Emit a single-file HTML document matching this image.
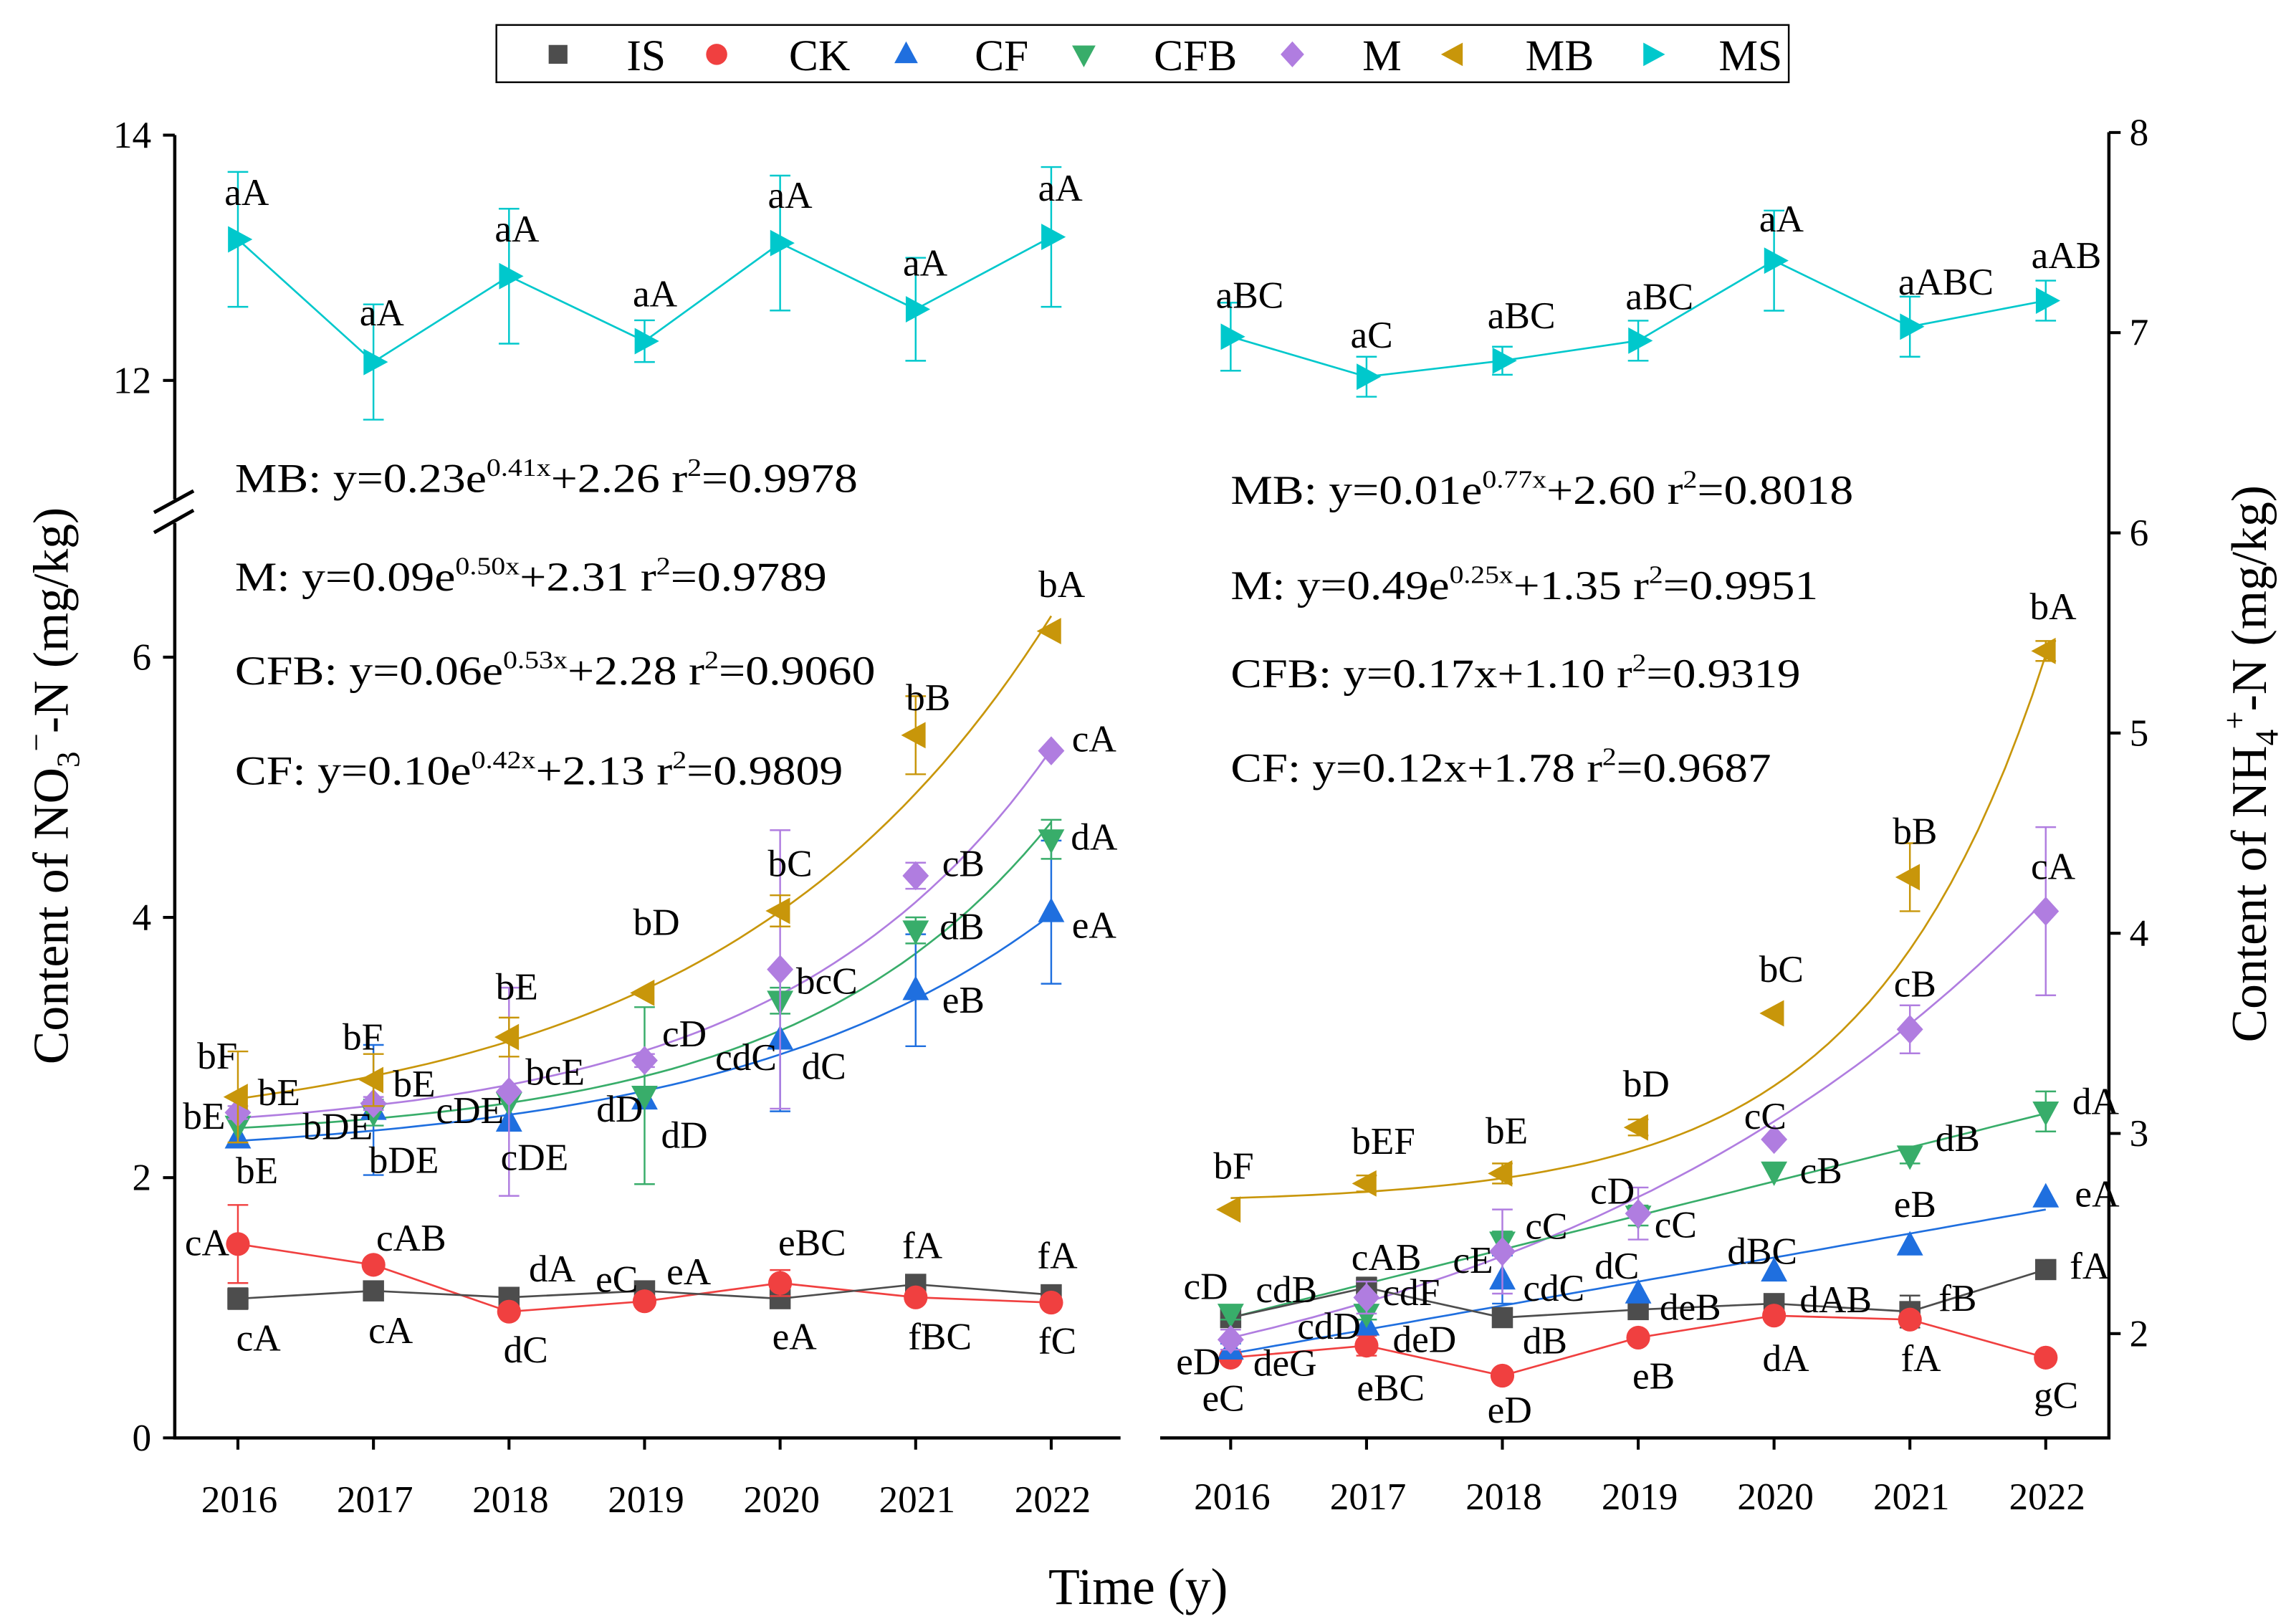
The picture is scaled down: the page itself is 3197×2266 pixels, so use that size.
<!DOCTYPE html>
<html><head><meta charset="utf-8"><style>
html,body{margin:0;padding:0;background:#fff;}
svg{display:block;font-family:"Liberation Serif","DejaVu Serif",serif;}
</style></head><body>
<svg id="chart" xmlns="http://www.w3.org/2000/svg" width="3197" height="2266" viewBox="0 0 1560 1105.7">
<rect x="0" y="0" width="1560" height="1106" fill="#fff"/>
<g id="legend"></g>
<g id="axes"></g>
<g id="plot"></g>
<g id="labels"></g>
<g font-size="28">
<text x="160" y="335" textLength="424" lengthAdjust="spacingAndGlyphs">MB: y=0.23e<tspan font-size="17" dy="-11">0.41x</tspan><tspan dy="11">+2.26 r</tspan><tspan font-size="17" dy="-11">2</tspan><tspan dy="11">=0.9978</tspan></text>
<text x="160" y="402" textLength="403" lengthAdjust="spacingAndGlyphs">M: y=0.09e<tspan font-size="17" dy="-11">0.50x</tspan><tspan dy="11">+2.31 r</tspan><tspan font-size="17" dy="-11">2</tspan><tspan dy="11">=0.9789</tspan></text>
<text x="160" y="466" textLength="436" lengthAdjust="spacingAndGlyphs">CFB: y=0.06e<tspan font-size="17" dy="-11">0.53x</tspan><tspan dy="11">+2.28 r</tspan><tspan font-size="17" dy="-11">2</tspan><tspan dy="11">=0.9060</tspan></text>
<text x="160" y="534" textLength="414" lengthAdjust="spacingAndGlyphs">CF: y=0.10e<tspan font-size="17" dy="-11">0.42x</tspan><tspan dy="11">+2.13 r</tspan><tspan font-size="17" dy="-11">2</tspan><tspan dy="11">=0.9809</tspan></text>
</g>
<g font-size="28">
<text x="838" y="343" textLength="424" lengthAdjust="spacingAndGlyphs">MB: y=0.01e<tspan font-size="17" dy="-11">0.77x</tspan><tspan dy="11">+2.60 r</tspan><tspan font-size="17" dy="-11">2</tspan><tspan dy="11">=0.8018</tspan></text>
<text x="838" y="408" textLength="400" lengthAdjust="spacingAndGlyphs">M: y=0.49e<tspan font-size="17" dy="-11">0.25x</tspan><tspan dy="11">+1.35 r</tspan><tspan font-size="17" dy="-11">2</tspan><tspan dy="11">=0.9951</tspan></text>
<text x="838" y="468" textLength="388" lengthAdjust="spacingAndGlyphs">CFB: y=0.17x+1.10 r<tspan font-size="17" dy="-11">2</tspan><tspan dy="11">=0.9319</tspan></text>
<text x="838" y="532" textLength="368" lengthAdjust="spacingAndGlyphs">CF: y=0.12x+1.78 r<tspan font-size="17" dy="-11">2</tspan><tspan dy="11">=0.9687</tspan></text>
</g>
<text transform="translate(46,535) rotate(-90)" text-anchor="middle" font-size="34">Content of NO<tspan font-size="22" dy="8">3</tspan><tspan font-size="22" dy="-22">−</tspan><tspan dy="14">-N (mg/kg)</tspan></text>
<text transform="translate(1543,520) rotate(-90)" text-anchor="middle" font-size="34">Content of NH<tspan font-size="22" dy="8">4</tspan><tspan font-size="22" dy="-22">+</tspan><tspan dy="14">-N (mg/kg)</tspan></text>
<text x="775" y="1092" text-anchor="middle" font-size="35">Time (y)</text>
</svg>
<script>
const NS='http://www.w3.org/2000/svg';
const years=['2016','2017','2018','2019','2020','2021','2022'];
const seriesNames=['IS','CK','CF','CFB','M','MB','MS'];
const colors={IS:'#4d4d4d',CK:'#f04040',CF:'#1f6fdf',CFB:'#38ad6a',M:'#b07de0',MB:'#c8960a',MS:'#00c8cc'};
const shapes={IS:'square',CK:'circle',CF:'up',CFB:'down',M:'diamond',MB:'left',MS:'right'};
// Left panel: NO3--N
const leftIS=[1.07,1.13,1.08,1.13,1.07,1.18,1.10];
const leftCK=[1.49,1.33,0.97,1.05,1.19,1.08,1.04];
const leftCF=[2.30,2.52,2.43,2.60,3.06,3.44,4.04];
const leftCFB=[2.40,2.50,2.58,2.63,3.36,3.90,4.60];
const leftM=[2.50,2.57,2.66,2.90,3.60,4.32,5.28];
const leftMB=[2.62,2.75,3.08,3.42,4.05,5.40,6.20];
const leftMS=[13.15,12.15,12.85,12.32,13.12,12.58,13.17];
const leftErrIS=[0.08,0,0,0,0,0,0];
const leftErrCK=[0.30,0,0,0,0.10,0,0];
const leftErrCF=[0,0.50,0,0,0.55,0.43,0.55];
const leftErrCFB=[0,0.10,0,0.68,0.10,0.10,0.15];
const leftErrM=[0.05,0.05,0.80,0.05,1.07,0.10,0];
const leftErrMB=[0.35,0.20,0.15,0,0.12,0.30,0];
const leftErrMS=[0.55,0.47,0.55,0.17,0.55,0.42,0.57];
// Right panel: NH4+-N
const rightIS=[2.08,2.23,2.08,2.12,2.15,2.11,2.32];
const rightCK=[1.88,1.94,1.79,1.98,2.09,2.07,1.88];
const rightCF=[1.92,2.04,2.27,2.20,2.31,2.44,2.68];
const rightCFB=[2.10,2.10,2.46,2.59,2.81,2.89,3.11];
const rightM=[1.97,2.18,2.41,2.60,2.97,3.52,4.11];
const rightMB=[2.62,2.75,2.80,3.03,3.60,4.28,5.41];
const rightMS=[6.98,6.78,6.86,6.96,7.36,7.03,7.16];
const rightErrIS=[0,0.05,0,0,0.04,0.08,0];
const rightErrCK=[0,0.05,0,0,0,0,0];
const rightErrCF=[0.03,0.03,0.12,0,0,0,0];
const rightErrCFB=[0.03,0.03,0.05,0.05,0,0.04,0.10];
const rightErrM=[0.05,0.08,0.21,0.13,0,0.12,0.42];
const rightErrMB=[0,0.04,0.05,0.04,0,0.17,0.05];
const rightErrMS=[0.17,0.10,0.07,0.10,0.25,0.15,0.10];
// fitted curve parameters (a*e^(b*x)+c, or linear slope/intercept), x = 1..7
const leftFitMB=[0.23,0.41,2.26], leftFitM=[0.09,0.50,2.31], leftFitCFB=[0.06,0.53,2.28], leftFitCF=[0.10,0.42,2.13];
const rightFitMB=[0.0125,0.77,2.65], rightFitM=[0.49,0.25,1.35];
const rightLinCFB=[0.17,1.91], rightLinCF=[0.12,1.78];
const leftTicksLow=['0','2','4','6'];
const leftTicksTop=['12','14'];
const rightTicks=['2','3','4','5','6','7','8'];
// significance letters [x, y, text] (annotation layout)
const leftLabels=[[168,131,'aA'],[260,213,'aA'],[352,156,'aA'],[446,200,'aA'],[538,133,'aA'],[630,179,'aA'],[722,128,'aA'],
[148,719,'bF'],[247,706,'bF'],[352,672,'bE'],[447,628,'bD'],[538,588,'bC'],[632,475,'bB'],[723,398,'bA'],
[190,744,'bE'],[282,738,'bE'],[378,730,'bcE'],[466,704,'cD'],[563,668,'bcC'],[656,588,'cB'],[745,503,'cA'],
[139,760,'bE'],[230,767,'bDE'],[320,756,'cDE'],[422,755,'dD'],[508,720,'cdC'],[655,631,'dB'],[745,570,'dA'],
[175,797,'bE'],[275,790,'bDE'],[364,788,'cDE'],[466,773,'dD'],[561,726,'dC'],[656,681,'eB'],[745,630,'eA'],
[141,846,'cA'],[280,843,'cAB'],[358,919,'dC'],[420,871,'eC'],[553,846,'eBC'],[640,910,'fBC'],[720,913,'fC'],
[176,911,'cA'],[266,906,'cA'],[376,864,'dA'],[469,866,'eA'],[541,910,'eA'],[628,848,'fA'],[720,855,'fA']];
const rightLabels=[[851,201,'aBC'],[934,228,'aC'],[1036,215,'aBC'],[1130,202,'aBC'],[1213,149,'aA'],[1325,192,'aABC'],[1407,174,'aAB'],
[840,794,'bF'],[942,777,'bEF'],[1026,770,'bE'],[1121,738,'bD'],[1213,660,'bC'],[1304,566,'bB'],[1398,413,'bA'],
[821,876,'cD'],[876,878,'cdB'],[816,927,'eD'],[875,928,'deG'],[833,952,'eC'],
[944,856,'cAB'],[961,880,'cdF'],[905,903,'cdD'],[970,912,'deD'],[947,945,'eBC'],
[1003,858,'cE'],[1053,835,'cC'],[1058,877,'cdC'],[1052,913,'dB'],[1028,960,'eD'],
[1098,811,'cD'],[1141,834,'cC'],[1101,862,'dC'],[1151,890,'deB'],[1126,937,'eB'],
[1200,852,'dBC'],[1202,760,'cC'],[1240,797,'cB'],[1250,885,'dAB'],[1216,925,'dA'],
[1304,820,'eB'],[1304,670,'cB'],[1333,775,'dB'],[1333,884,'fB'],[1308,925,'fA'],
[1398,590,'cA'],[1427,750,'dA'],[1428,813,'eA'],[1423,862,'fA'],[1400,950,'gC']];

const xL=i=>162+i*92.3, xR=i=>838+i*92.5;
const yLow=v=>979-v*88.6, yTop=v=>259-(v-12)*83.5, yR=v=>90.2+(8-v)*136.3;
const axes=document.getElementById('axes'), plot=document.getElementById('plot'), lab=document.getElementById('labels'), leg=document.getElementById('legend');
function mk(tag,attrs,parent){const e=document.createElementNS(NS,tag);for(const k in attrs)e.setAttribute(k,attrs[k]);parent.appendChild(e);return e;}
function line(x1,y1,x2,y2,st,w,p,name){const e=mk('line',{x1,y1,x2,y2,stroke:st,'stroke-width':w},p);

return e;}
function marker(shape,x,y,s,col,p,name){let e;
if(shape==='square')e=mk('rect',{x:x-s*0.8,y:y-s*0.8,width:s*1.6,height:s*1.6,fill:col},p);
else if(shape==='circle')e=mk('circle',{cx:x,cy:y,r:s*0.9,fill:col},p);
else{let pts;
if(shape==='up')pts=[[x,y-s*1.1],[x+s,y+s*0.75],[x-s,y+s*0.75]];
else if(shape==='down')pts=[[x,y+s*1.1],[x+s,y-s*0.75],[x-s,y-s*0.75]];
else if(shape==='diamond')pts=[[x,y-s*1.1],[x+s,y],[x,y+s*1.1],[x-s,y]];
else if(shape==='left')pts=[[x-s*1.1,y],[x+s*0.75,y-s],[x+s*0.75,y+s]];
else pts=[[x+s*1.1,y],[x-s*0.75,y-s],[x-s*0.75,y+s]];
e=mk('polygon',{points:pts.map(q=>q.join(',')).join(' '),fill:col},p);}

return e;}
function txt(x,y,s,size,anchor,p,name){const e=mk('text',{x,y,'font-size':size,'text-anchor':anchor,'dominant-baseline':'central'},p);e.textContent=s;

return e;}

// axes
line(119,92,119,340,'#000',2.2,axes,'left-y-axis-top');
line(119,356,119,980,'#000',2.2,axes,'left-y-axis-bottom');
line(104.9,348.9,131.8,334.2,'#000',2.4,axes,'axis-break-mark');
line(104.9,362.6,131.8,347.4,'#000',2.4,axes,'axis-break-mark');
line(118,979,763,979,'#000',2.2,axes,'left-x-axis');
line(790,979,1437,979,'#000',2.2,axes,'right-x-axis');
line(1436,90,1436,980,'#000',2.2,axes,'right-y-axis');
years.forEach((y,i)=>{line(xL(i),979,xL(i),987,'#000',2,axes,'x-tick');txt(xL(i)+1,1021,y,26,'middle',axes,'x-tick-label');
line(xR(i),979,xR(i),987,'#000',2,axes,'x-tick');txt(xR(i)+1,1019,y,26,'middle',axes,'x-tick-label');});
leftTicksLow.forEach(t=>{const y=yLow(+t);line(111,y,119,y,'#000',2,axes,'y-tick');txt(103,y,t,26,'end',axes,'y-tick-label');});
leftTicksTop.forEach(t=>{const y=yTop(+t);line(111,y,119,y,'#000',2,axes,'y-tick');txt(103,y,t,26,'end',axes,'y-tick-label');});
rightTicks.forEach(t=>{const y=yR(+t);line(1436,y,1444,y,'#000',2,axes,'y-tick');txt(1450,y,t,26,'start',axes,'y-tick-label');});

function fitPath(f,xs,ys,name,col){let d='';for(let k=0;k<=60;k++){const t=1+k*6/60;const v=f(t);d+=(k?'L':'M')+xs(t-1).toFixed(1)+','+ys(v).toFixed(1);}
const e=mk('path',{d,fill:'none',stroke:col,'stroke-width':1.3},plot);

}
const ex=p=>t=>p[0]*Math.exp(p[1]*t)+p[2];
const li=p=>t=>p[0]*t+p[1];
fitPath(ex(leftFitMB),xL,yLow,'fit-curve-mb-left',colors.MB);
fitPath(ex(leftFitM),xL,yLow,'fit-curve-m-left',colors.M);
fitPath(ex(leftFitCFB),xL,yLow,'fit-curve-cfb-left',colors.CFB);
fitPath(ex(leftFitCF),xL,yLow,'fit-curve-cf-left',colors.CF);
fitPath(ex(rightFitMB),xR,yR,'fit-curve-mb-right',colors.MB);
fitPath(ex(rightFitM),xR,yR,'fit-curve-m-right',colors.M);
fitPath(li(rightLinCFB),xR,yR,'fit-line-cfb-right',colors.CFB);
fitPath(li(rightLinCF),xR,yR,'fit-line-cf-right',colors.CF);

function connect(vals,xs,ys,col,name){const e=mk('polyline',{points:vals.map((v,i)=>xs(i)+','+ys(v)).join(' '),fill:'none',stroke:col,'stroke-width':1.3},plot);

}
connect(leftMS,xL,yTop,colors.MS,'line-ms-left');
connect(leftCK,xL,yLow,colors.CK,'line-ck-left');
connect(leftIS,xL,yLow,colors.IS,'line-is-left');
connect(rightMS,xR,yR,colors.MS,'line-ms-right');
connect(rightCK,xR,yR,colors.CK,'line-ck-right');
connect(rightIS,xR,yR,colors.IS,'line-is-right');

function points(name,vals,errs,xs,ys,side){const col=colors[name];
vals.forEach((v,i)=>{const x=xs(i);if(errs[i]>0){const y1=ys(v+errs[i]),y2=ys(v-errs[i]);
line(x,y1,x,y2,col,1.2,plot,'error-bar-'+name.toLowerCase());line(x-7,y1,x+7,y1,col,1.2,plot,'error-cap');line(x-7,y2,x+7,y2,col,1.2,plot,'error-cap');}
marker(shapes[name],x,ys(v),9,col,plot,'point-'+name.toLowerCase()+'-'+side+'-'+years[i]);});}
points('IS',leftIS,leftErrIS,xL,yLow,'left');
points('CK',leftCK,leftErrCK,xL,yLow,'left');
points('CF',leftCF,leftErrCF,xL,yLow,'left');
points('CFB',leftCFB,leftErrCFB,xL,yLow,'left');
points('M',leftM,leftErrM,xL,yLow,'left');
points('MB',leftMB,leftErrMB,xL,yLow,'left');
points('MS',leftMS,leftErrMS,xL,yTop,'left');
points('IS',rightIS,rightErrIS,xR,yR,'right');
points('CK',rightCK,rightErrCK,xR,yR,'right');
points('CF',rightCF,rightErrCF,xR,yR,'right');
points('CFB',rightCFB,rightErrCFB,xR,yR,'right');
points('M',rightM,rightErrM,xR,yR,'right');
points('MB',rightMB,rightErrMB,xR,yR,'right');
points('MS',rightMS,rightErrMS,xR,yR,'right');

leftLabels.concat(rightLabels).forEach(l=>txt(l[0],l[1],l[2],26,'middle',lab,'letter-label'));

// legend
const lb=mk('rect',{x:338,y:17,width:880,height:39,fill:'#fff',stroke:'#000','stroke-width':1.2},leg);


const legMarkX=[380,488,617,738,880,990,1125], legTextX=[440,558,682,814,941,1062,1192];
seriesNames.forEach((n,i)=>{marker(shapes[n],legMarkX[i],37,8,colors[n],leg,'legend-marker-'+n.toLowerCase());
txt(legTextX[i],38,n,30,'middle',leg,'legend-entry-'+n.toLowerCase());});
</script>
</body></html>
